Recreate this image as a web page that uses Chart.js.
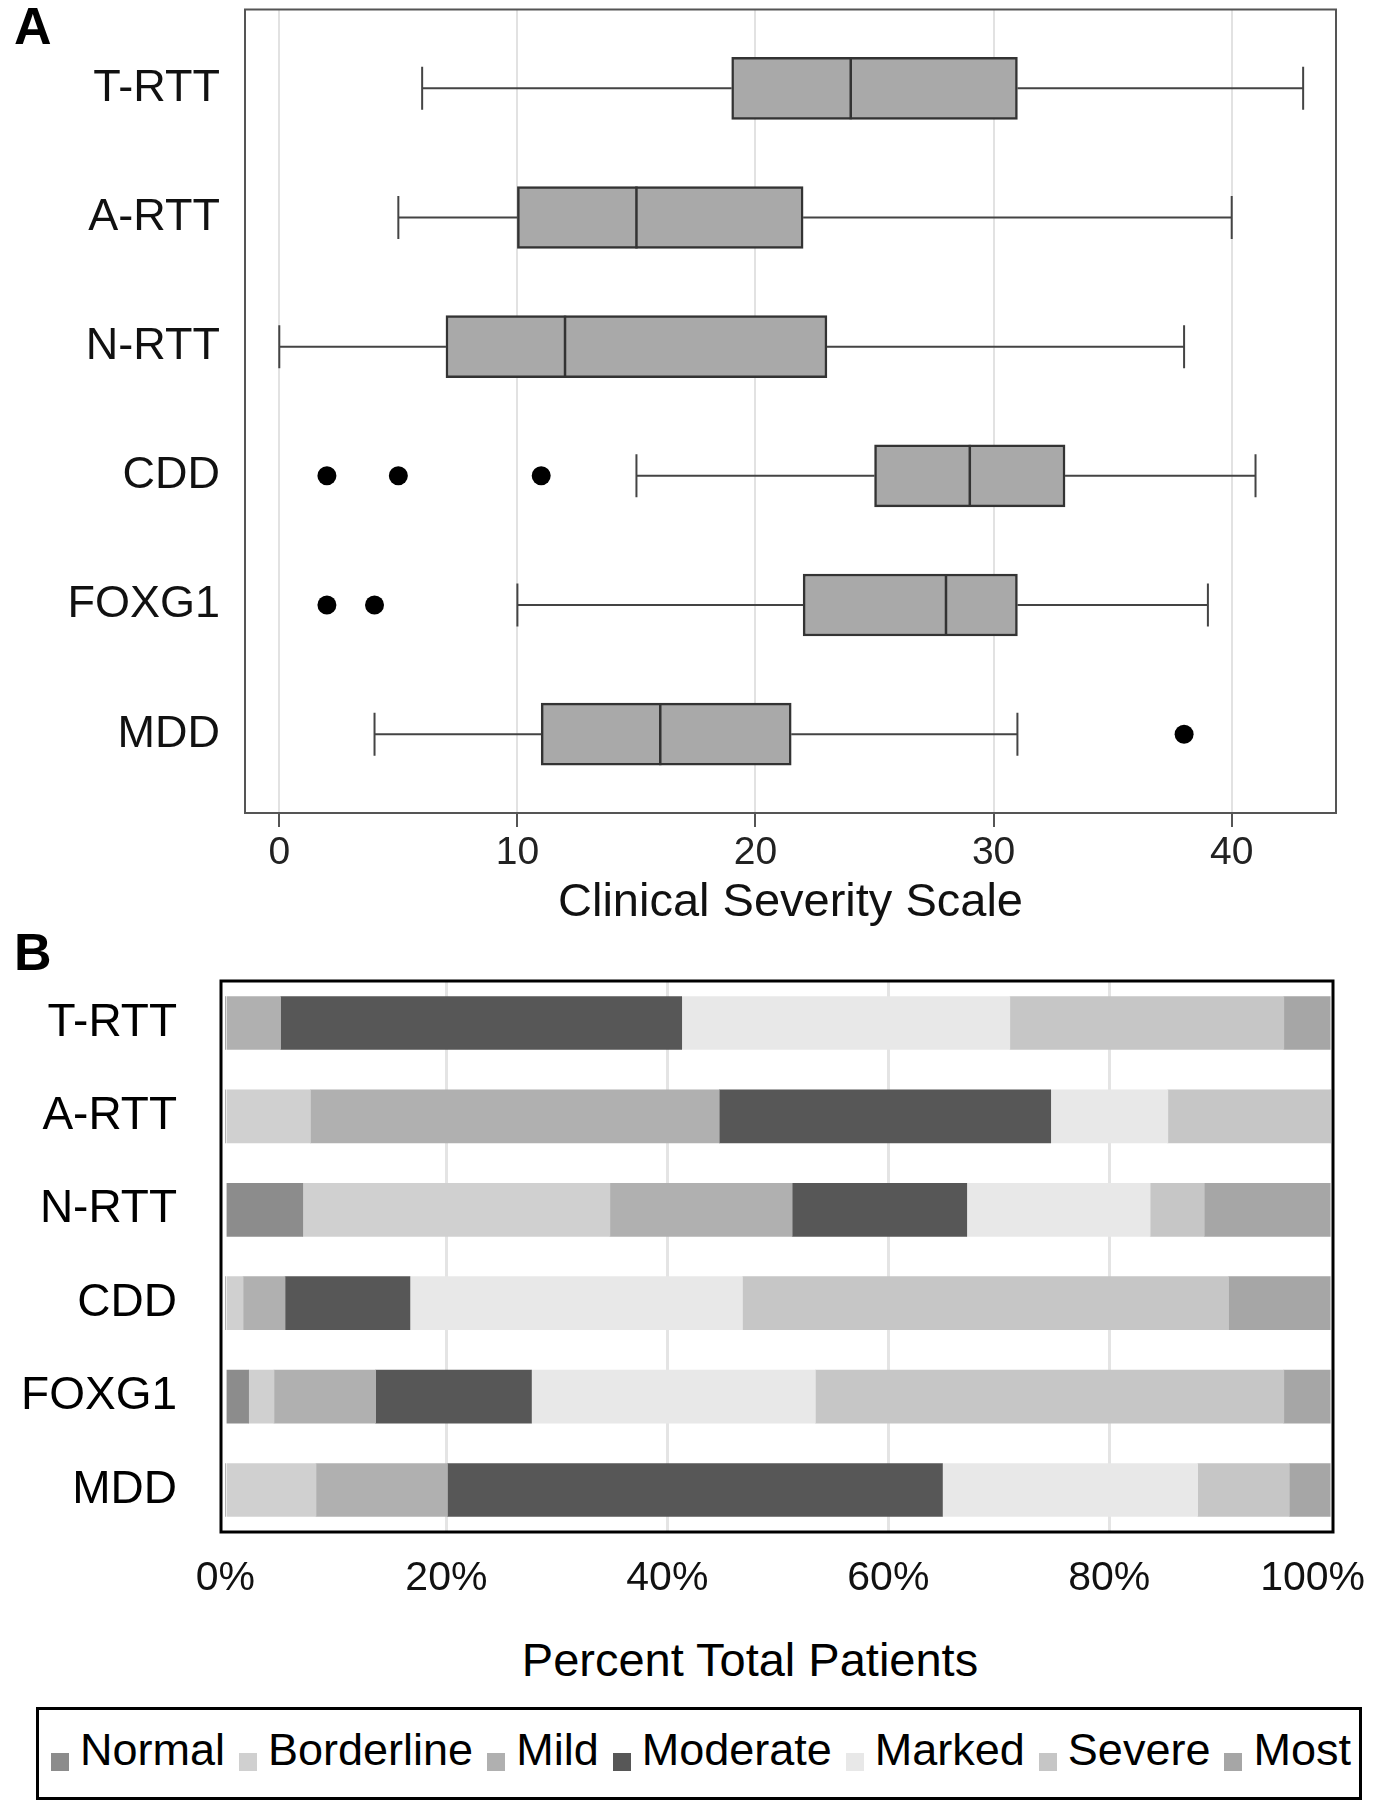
<!DOCTYPE html>
<html>
<head>
<meta charset="utf-8">
<script src="https://cdn.jsdelivr.net/npm/chart.js@4.4.1/dist/chart.umd.min.js"></script>
<style>
  body { margin: 0; background: #fff; font-family: "Liberation Sans", Arial, sans-serif; }
  #page { position: relative; width: 1373px; height: 1810px; overflow: hidden; }
  .panel-label { position: absolute; left: 14px; font-weight: bold; font-size: 52px; line-height: 1; color: #000; z-index: 2; }
  .chart-box { position: absolute; left: 0; }
  #x-title-b { position: absolute; left: 450px; width: 600px; top: 1636px; text-align: center; font-size: 47px; line-height: 1; color: #000; }
  #legend { position: absolute; left: 36px; top: 1707px; width: 1326px; height: 93px; box-sizing: border-box;
            border: 3px solid #000; padding: 17px 0 0 12px; white-space: nowrap; font-size: 45px; line-height: 1; color: #000; }
  .legend-item { display: inline-block; margin-right: 14px; }
  .legend-color { display: inline-block; width: 18px; height: 18px; margin-right: 11px; margin-bottom: -6px; }
</style>
</head>
<body>
<div id="page">
  <div class="panel-label" style="top:0px">A</div>
  <div class="chart-box" style="top:0px"><canvas id="boxChart" width="1373" height="940"></canvas></div>
  <div class="panel-label" style="top:926px">B</div>
  <div class="chart-box" style="top:940px"><canvas id="stackChart" width="1373" height="690"></canvas></div>
  <div id="x-title-b">Percent Total Patients</div>
  <div id="legend"></div>
</div>
<script>
const categories = ['T-RTT', 'A-RTT', 'N-RTT', 'CDD', 'FOXG1', 'MDD'];

// Panel A - box plot of Clinical Severity Scale
const whiskerLow = [6, 5, 0, 15, 10, 4];
const quartile1 = [19, 10, 7, 25, 22, 11];
const medians = [24, 15, 12, 29, 28, 16];
const quartile3 = [31, 22, 23, 33, 31, 21.5];
const whiskerHigh = [43, 40, 38, 41, 39, 31];
const outlierGroup = [3, 3, 3, 4, 4, 5];
const outlierValues = [2, 5, 11, 2, 4, 38];
const severityTicks = [0, 10, 20, 30, 40];

// Panel B - percent of patients per severity level
const severityLevels = ['Normal', 'Borderline', 'Mild', 'Moderate', 'Marked', 'Severe', 'Most'];
const pctNormal = [0, 0, 7, 0, 2.1, 0];
const pctBorderline = [0, 7.7, 27.8, 1.6, 2.3, 8.2];
const pctMild = [5, 37, 16.5, 3.8, 9.2, 11.9];
const pctModerate = [36.3, 30, 15.8, 11.3, 14.1, 44.8];
const pctMarked = [29.7, 10.6, 16.6, 30.1, 25.7, 23.1];
const pctSevere = [24.8, 14.7, 4.9, 44, 42.4, 8.3];
const pctMost = [4.2, 0, 11.4, 9.2, 4.2, 3.7];
const percentTicks = [0, 20, 40, 60, 80, 100];

const levelSeries = [pctNormal, pctBorderline, pctMild, pctModerate, pctMarked, pctSevere, pctMost];
const levelColors = ['#8c8c8c', '#d0d0d0', '#b0b0b0', '#575757', '#e8e8e8', '#c6c6c6', '#a6a6a6'];

Chart.defaults.font.family = '"Liberation Sans", Arial, sans-serif';
Chart.defaults.color = '#111';
Chart.defaults.animation = false;

function categoryTicks(axis) {
    axis.ticks = categories.map((c, i) => ({ value: i }));
}

// fix the axis size and drop the label overhang padding so the plot frame stays where we want it
function fixedSize(prop, size) {
    return scale => {
        scale[prop] = size;
        scale.paddingTop = 0;
        scale.paddingBottom = 0;
        scale.paddingLeft = 0;
        scale.paddingRight = 0;
    };
}

// whiskers, caps and median line on top of the floating box bars
const boxWhiskers = {
    id: 'boxWhiskers',
    afterDatasetsDraw(chart) {
        const { ctx, scales: { x, y } } = chart;
        const capHalf = 21.5, boxHalf = 31;
        ctx.save();
        categories.forEach((c, i) => {
            const cy = y.getPixelForValue(i);
            const lo = x.getPixelForValue(whiskerLow[i]);
            const hi = x.getPixelForValue(whiskerHigh[i]);
            const q1 = x.getPixelForValue(quartile1[i]);
            const q3 = x.getPixelForValue(quartile3[i]);
            const med = x.getPixelForValue(medians[i]);

            ctx.strokeStyle = '#444';
            ctx.lineWidth = 2;
            ctx.beginPath();
            ctx.moveTo(lo, cy); ctx.lineTo(q1, cy);
            ctx.moveTo(q3, cy); ctx.lineTo(hi, cy);
            ctx.moveTo(lo, cy - capHalf); ctx.lineTo(lo, cy + capHalf);
            ctx.moveTo(hi, cy - capHalf); ctx.lineTo(hi, cy + capHalf);
            ctx.stroke();

            ctx.strokeStyle = '#333';
            ctx.lineWidth = 2.5;
            ctx.beginPath();
            ctx.moveTo(med, cy - boxHalf); ctx.lineTo(med, cy + boxHalf);
            ctx.stroke();
        });
        ctx.restore();
    }
};

function framePlugin(color, width) {
    return {
        id: 'frame',
        afterDraw(chart) {
            const { ctx, chartArea } = chart;
            ctx.save();
            ctx.strokeStyle = color;
            ctx.lineWidth = width;
            ctx.strokeRect(chartArea.left, chartArea.top, chartArea.width, chartArea.height);
            ctx.restore();
        }
    };
}

// percent tick labels, kept inside the canvas at the right edge
const percentLabels = {
    id: 'percentLabels',
    afterDraw(chart) {
        const { ctx, scales: { x } } = chart;
        ctx.save();
        ctx.font = '41px "Liberation Sans", Arial, sans-serif';
        ctx.fillStyle = '#111';
        ctx.textAlign = 'left';
        ctx.textBaseline = 'alphabetic';
        x.ticks.forEach(t => {
            const label = t.value + '%';
            const w = ctx.measureText(label).width;
            let left = x.getPixelForValue(t.value) - w / 2;
            left = Math.min(left, chart.width - w - 8);
            ctx.fillText(label, left, chart.chartArea.bottom + 58);
        });
        ctx.restore();
    }
};

new Chart(document.getElementById('boxChart'), {
    type: 'bar',
    data: {
        datasets: [{
            type: 'bar',
            indexAxis: 'y',
            data: categories.map((c, i) => ({ x: [quartile1[i], quartile3[i]], y: i })),
            backgroundColor: '#a9a9a9',
            borderColor: '#333',
            borderWidth: 2.5,
            borderSkipped: false,
            barThickness: 62
        }, {
            type: 'scatter',
            data: outlierValues.map((v, i) => ({ x: v, y: outlierGroup[i] })),
            pointRadius: 9.5,
            backgroundColor: '#000',
            borderWidth: 0
        }]
    },
    options: {
        indexAxis: 'y',
        responsive: false,
        animation: false,
        layout: { padding: { top: 8, right: 37, left: 0, bottom: 0 } },
        plugins: { legend: { display: false }, tooltip: { enabled: false } },
        scales: {
            x: {
                type: 'linear',
                offset: false,
                min: -1.44,
                max: 44.38,
                afterBuildTicks: axis => { axis.ticks = severityTicks.map(v => ({ value: v })); },
                afterFit: fixedSize('height', 127),
                grid: { offset: false, color: '#e2e2e2', lineWidth: 2, drawTicks: true, tickLength: 14, tickColor: '#555', tickWidth: 2 },
                border: { display: false },
                ticks: { font: { size: 39 }, color: '#222', padding: 3 },
                title: { display: true, text: 'Clinical Severity Scale', font: { size: 47 }, color: '#111', padding: { top: 0, bottom: 9 } }
            },
            y: {
                type: 'linear',
                offset: false,
                reverse: true,
                min: -0.61,
                max: 5.61,
                afterBuildTicks: categoryTicks,
                afterFit: fixedSize('width', 245),
                grid: { display: false, offset: false },
                border: { display: false },
                ticks: { callback: v => categories[v], font: { size: 45 }, color: '#111', padding: 17 }
            }
        }
    },
    plugins: [boxWhiskers, framePlugin('#555', 2)]
});

new Chart(document.getElementById('stackChart'), {
    type: 'bar',
    data: {
        datasets: severityLevels.map((level, k) => ({
            label: level,
            data: categories.map((c, i) => ({ x: levelSeries[k][i], y: i })),
            backgroundColor: levelColors[k],
            borderWidth: 0,
            barThickness: 53
        }))
    },
    options: {
        indexAxis: 'y',
        responsive: false,
        animation: false,
        layout: { padding: { top: 41, right: 40, left: 0, bottom: 0 } },
        plugins: { legend: { display: false }, tooltip: { enabled: false } },
        scales: {
            x: {
                type: 'linear',
                stacked: true,
                offset: false,
                min: -0.4,
                max: 100.25,
                afterBuildTicks: axis => { axis.ticks = percentTicks.map(v => ({ value: v })); },
                afterFit: fixedSize('height', 98),
                grid: {
                    offset: false,
                    color: c => (c.tick && (c.tick.value === 0 || c.tick.value === 100)) ? 'rgba(0,0,0,0)' : '#e4e4e4',
                    lineWidth: 3,
                    drawTicks: false
                },
                border: { display: false },
                ticks: { display: false }
            },
            y: {
                type: 'linear',
                stacked: true,
                offset: false,
                reverse: true,
                min: -0.45,
                max: 5.45,
                afterBuildTicks: categoryTicks,
                afterFit: fixedSize('width', 221),
                grid: { display: false, offset: false },
                border: { display: false },
                ticks: { callback: v => categories[v], font: { size: 46 }, color: '#000', padding: 36 }
            }
        }
    },
    plugins: [percentLabels, framePlugin('#000', 3)]
});

// custom legend for panel B
const legendBox = document.getElementById('legend');
severityLevels.forEach((level, k) => {
    const item = document.createElement('span');
    item.className = 'legend-item';
    const swatch = document.createElement('span');
    swatch.className = 'legend-color';
    swatch.style.backgroundColor = levelColors[k];
    const text = document.createElement('span');
    text.innerText = level;
    item.appendChild(swatch);
    item.appendChild(text);
    legendBox.appendChild(item);
});
</script>
</body>
</html>
